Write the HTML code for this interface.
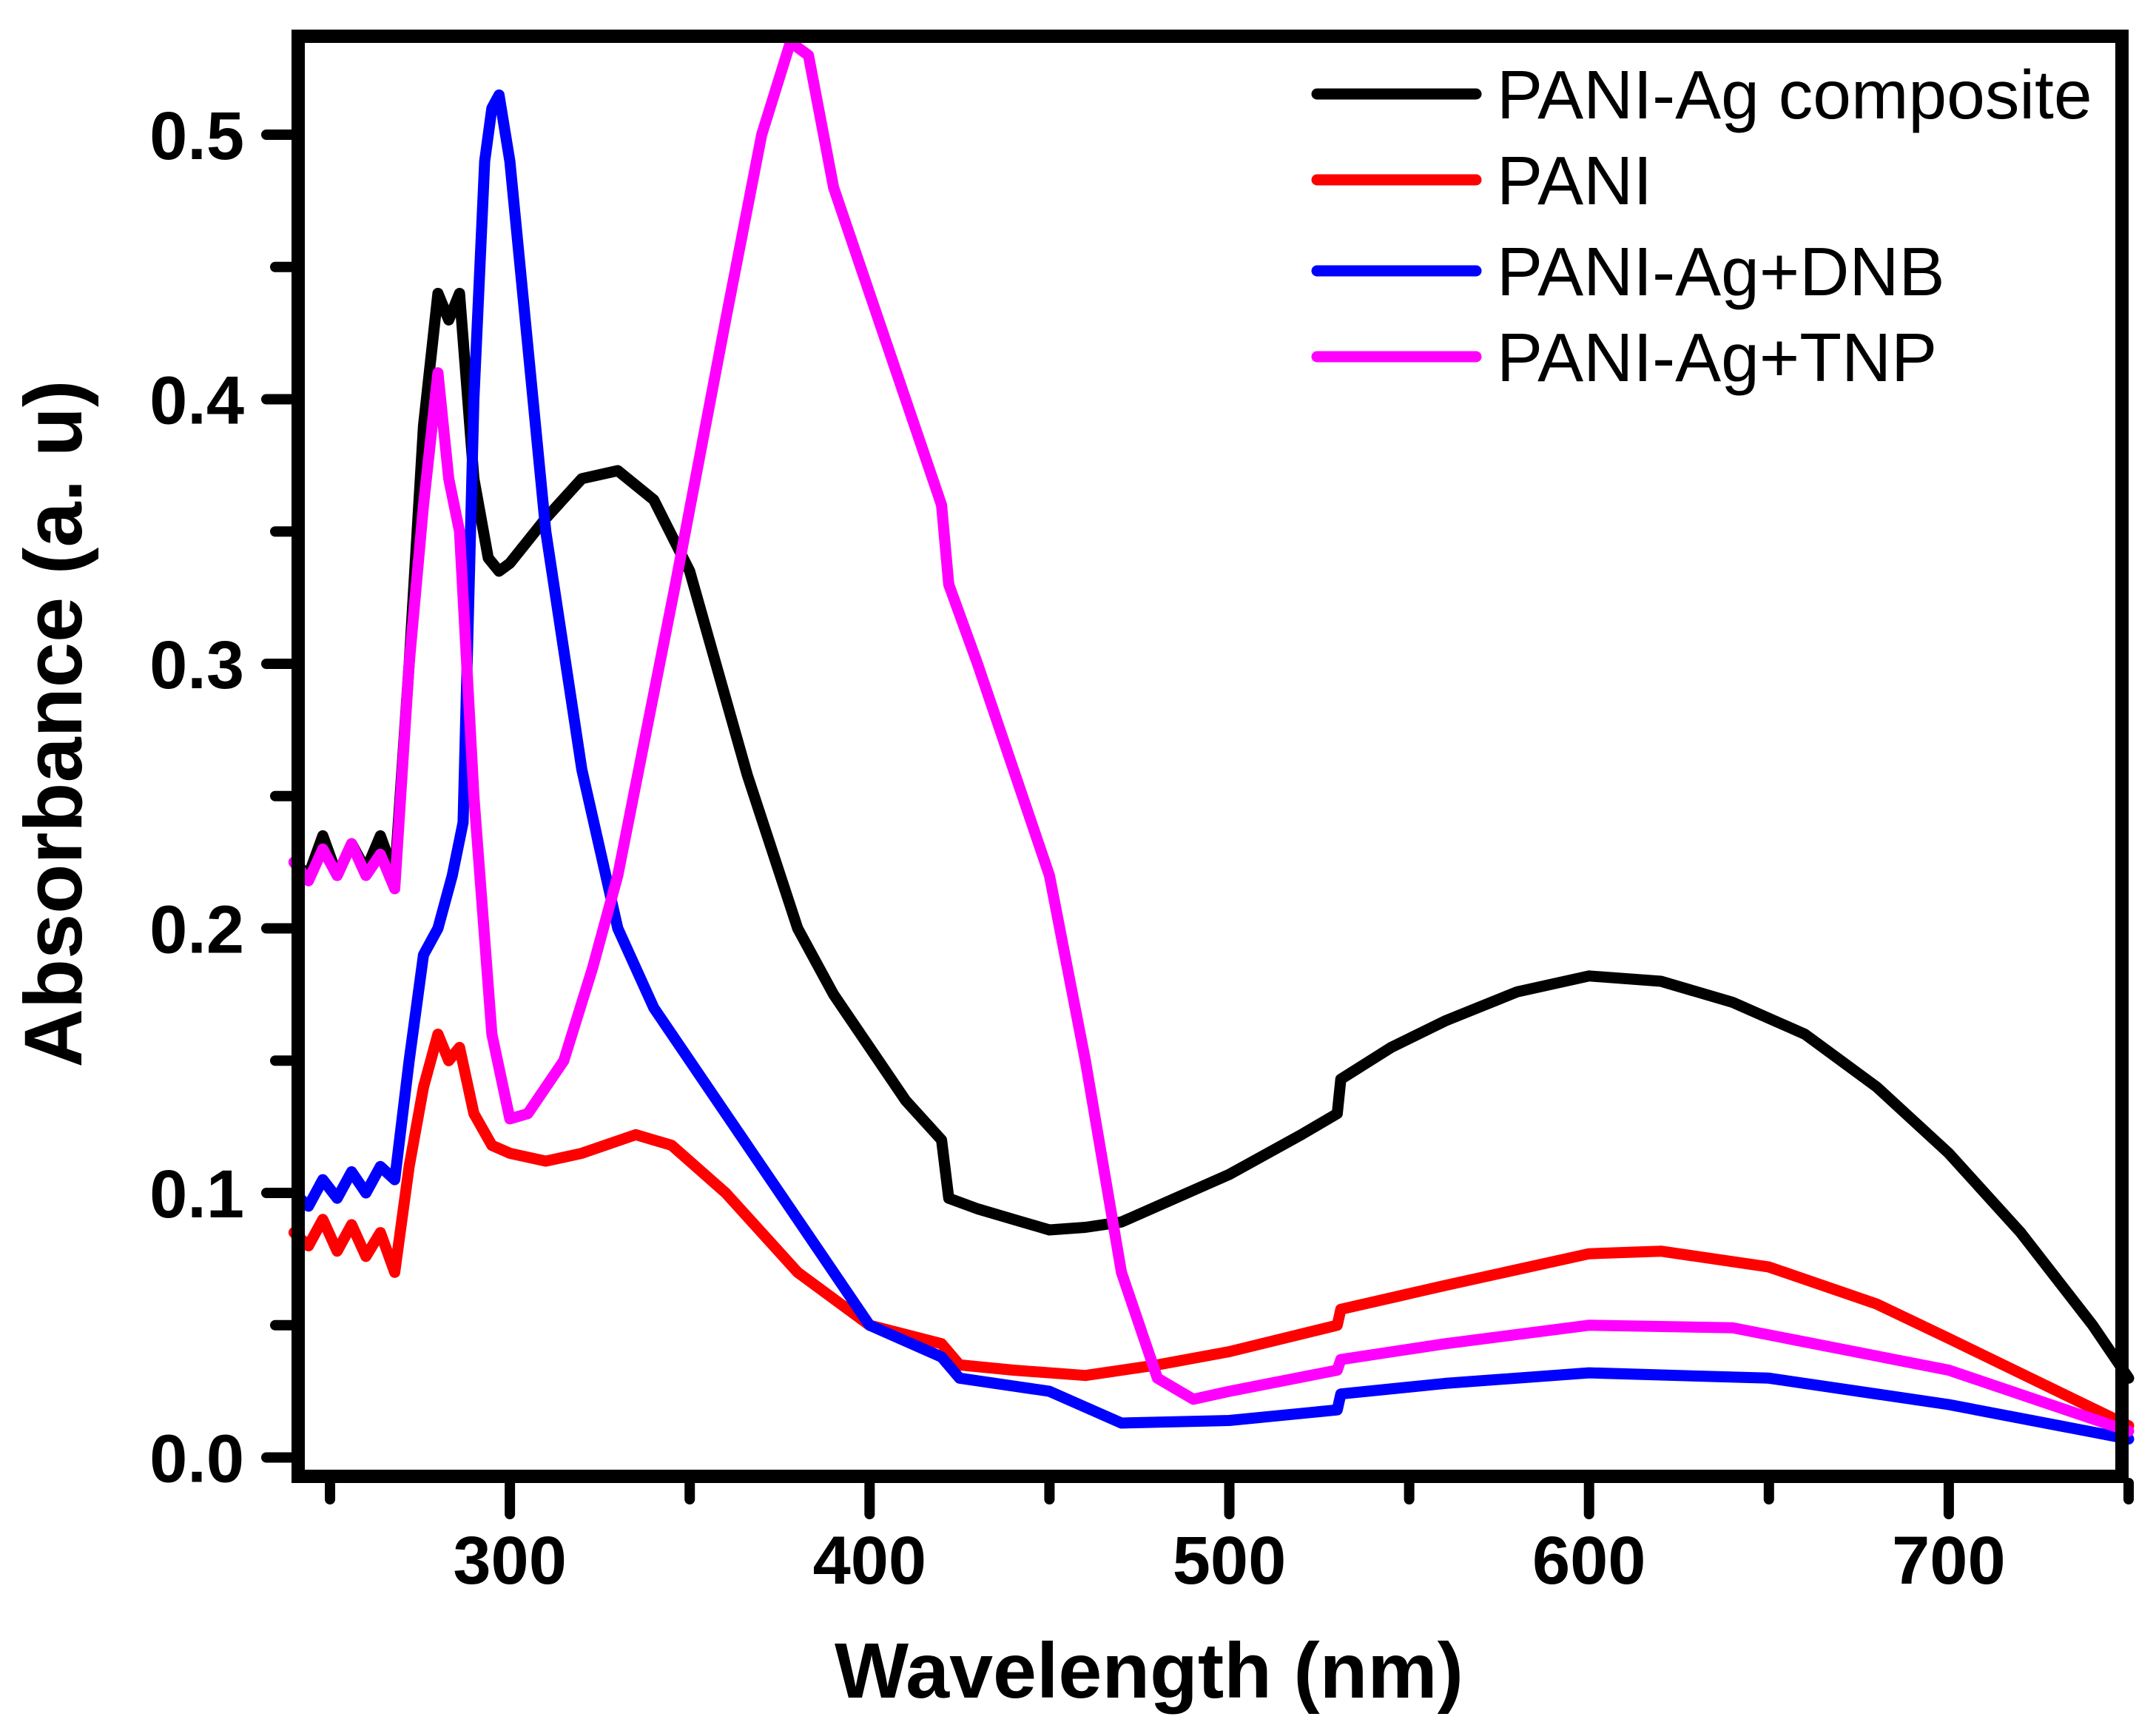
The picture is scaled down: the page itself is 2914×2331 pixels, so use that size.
<!DOCTYPE html>
<html><head><meta charset="utf-8"><style>
html,body{margin:0;padding:0;background:#fff;}
svg{display:block;font-family:"Liberation Sans",Arial,sans-serif;}
</style></head><body>
<svg id="chart" width="2914" height="2331" viewBox="0 0 2914 2331" xmlns="http://www.w3.org/2000/svg">
<g id="series"></g>
<g id="axes"></g>
<text x="1553" y="2294" text-anchor="middle" font-weight="bold" font-size="106">Wavelength (nm)</text>
<text transform="translate(110,978) rotate(-90)" text-anchor="middle" font-weight="bold" font-size="110">Absorbance (a. u)</text>
<g id="legend"></g>
</svg>
<script>
const xTicks=[300,400,500,600,700];
const yTicks=[0.0,0.1,0.2,0.3,0.4,0.5];
const yTickLabels=["0.0","0.1","0.2","0.3","0.4","0.5"];
const seriesNames=["PANI-Ag composite","PANI","PANI-Ag+DNB","PANI-Ag+TNP"];
const seriesColors=["#000000","#ff0000","#0000ff","#ff00ff"];
const wlBlack=[240,244,248,252,256,260,264,268,272,276,280,283,286,290,294,297,300,310,320,330,340,350,366,380,390,400,410,420,422,430,440,450,460,470,480,500,520,530,531,545,560,580,600,620,640,660,680,700,720,740,750];
const absBlack=[0.225,0.22,0.235,0.22,0.232,0.222,0.235,0.22,0.3,0.39,0.44,0.43,0.44,0.37,0.34,0.335,0.338,0.355,0.37,0.373,0.362,0.335,0.258,0.2,0.175,0.155,0.135,0.12,0.098,0.094,0.09,0.086,0.087,0.089,0.095,0.107,0.122,0.13,0.143,0.155,0.165,0.176,0.182,0.18,0.172,0.16,0.14,0.115,0.085,0.05,0.03];
const wlRed=[240,244,248,252,256,260,264,268,272,276,280,283,286,290,295,300,310,320,335,345,360,380,400,420,425,440,460,480,500,530,531,560,600,620,650,680,700,750];
const absRed=[0.085,0.08,0.09,0.078,0.088,0.076,0.085,0.07,0.11,0.14,0.16,0.15,0.155,0.13,0.118,0.115,0.112,0.115,0.122,0.118,0.1,0.07,0.05,0.043,0.035,0.033,0.031,0.035,0.04,0.05,0.056,0.065,0.077,0.078,0.072,0.058,0.045,0.012];
const wlBlue=[240,244,248,252,256,260,264,268,272,276,280,284,287,290,293,295,297,300,305,310,320,330,340,360,380,400,420,425,450,470,500,530,531,560,600,650,700,750];
const absBlue=[0.1,0.095,0.105,0.098,0.108,0.1,0.11,0.105,0.15,0.19,0.2,0.22,0.24,0.4,0.49,0.51,0.515,0.49,0.42,0.35,0.26,0.2,0.17,0.13,0.09,0.05,0.038,0.03,0.025,0.013,0.014,0.018,0.024,0.028,0.032,0.03,0.02,0.007];
const wlMag=[240,244,248,252,256,260,264,268,272,276,280,283,286,290,295,300,305,315,323,330,346,360,370,378,383,390,400,420,422,430,440,450,460,470,480,490,500,530,531,560,600,640,700,750];
const absMag=[0.225,0.218,0.23,0.22,0.232,0.22,0.228,0.215,0.3,0.36,0.41,0.37,0.35,0.25,0.16,0.128,0.13,0.15,0.185,0.22,0.33,0.43,0.5,0.535,0.53,0.48,0.44,0.36,0.33,0.3,0.26,0.22,0.15,0.07,0.03,0.022,0.025,0.033,0.037,0.043,0.05,0.049,0.033,0.01];

const X0=394,X1=2877,Y0=40,Y1=2004;
const xMin=239.3,xMax=750;
const yAt0=1969.5,yPer=3575;
function sx(v){return X0+(v-xMin)/(xMax-xMin)*(X1-X0);}
function sy(v){return yAt0-v*yPer;}
const NS="http://www.w3.org/2000/svg";
function mk(tag,attrs,parent){const e=document.createElementNS(NS,tag);for(const k in attrs)e.setAttribute(k,attrs[k]);parent.appendChild(e);return e;}

const sg=document.getElementById('series');
const allWl=[wlBlack,wlRed,wlBlue,wlMag];
const allAbs=[absBlack,absRed,absBlue,absMag];
const slug=["pani-ag-composite","pani","pani-ag-dnb","pani-ag-tnp"];
[0,1,2,3].forEach(i=>{
  const pts=allWl[i].map((w,j)=>sx(w).toFixed(1)+','+sy(allAbs[i][j]).toFixed(1)).join(' ');
  const pl=mk('polyline',{points:pts,fill:'none',stroke:seriesColors[i],'stroke-width':15,'stroke-linejoin':'round','stroke-linecap':'round'},sg);
  
  
});

const ag=document.getElementById('axes');
const frame=mk('rect',{x:X0+9,y:Y0+9,width:X1-X0-18,height:Y1-Y0-18,fill:'none',stroke:'#000','stroke-width':18},ag);


for(let v=250;v<=750;v+=50){
  const major=xTicks.includes(v);
  const t=mk('line',{x1:sx(v),x2:sx(v),y1:Y1,y2:Y1+(major?42:22),stroke:'#000','stroke-width':14,'stroke-linecap':'round'},ag);
  
  
}
xTicks.forEach(v=>{
  const t=mk('text',{x:sx(v),y:2140,'text-anchor':'middle','font-weight':'bold','font-size':92},ag);
  t.textContent=v;
  
  
});
for(let k=0;k<=10;k++){
  const v=k*0.05;
  const major=k%2===0;
  const t=mk('line',{x1:X0,x2:X0-(major?34:22),y1:sy(v),y2:sy(v),stroke:'#000','stroke-width':14,'stroke-linecap':'round'},ag);
  
  
}
yTicks.forEach((v,i)=>{
  const t=mk('text',{x:330,y:sy(v)+33,'text-anchor':'end','font-weight':'bold','font-size':92},ag);
  t.textContent=yTickLabels[i];
  
  
});

const lg=document.getElementById('legend');
const legY=[127,243,366,482];
seriesNames.forEach((n,i)=>{
  const l=mk('line',{x1:1780,x2:1995,y1:legY[i],y2:legY[i],stroke:seriesColors[i],'stroke-width':15,'stroke-linecap':'round'},lg);
  
  
  const t=mk('text',{x:2023,y:legY[i]+33,'font-size':93},lg);
  t.textContent=n;
  
  
});
</script>
</body></html>
